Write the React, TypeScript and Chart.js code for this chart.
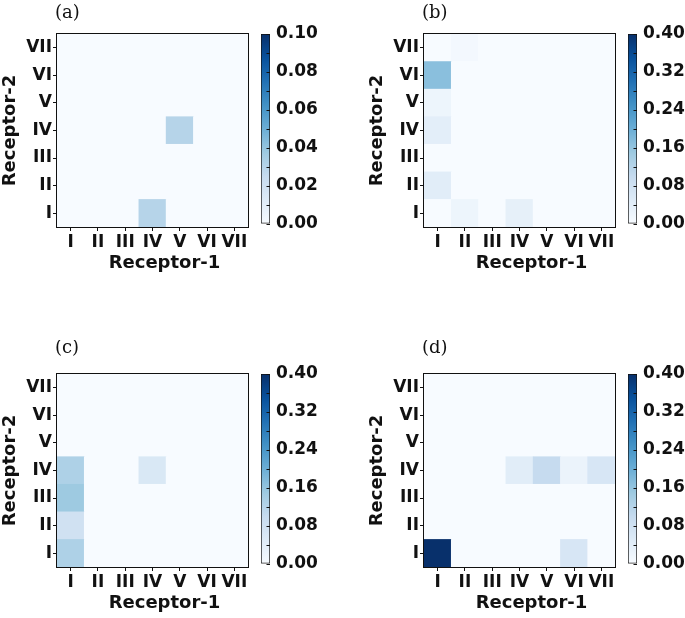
import React, { useEffect, useRef } from 'react';
import { Chart, registerables } from 'chart.js';

Chart.register(...registerables);

// ---------- data ----------
const receptorLabels = ['I', 'II', 'III', 'IV', 'V', 'VI', 'VII'];
const panelTitles = ['(a)', '(b)', '(c)', '(d)'];
const colorbarMax = [0.1, 0.4, 0.4, 0.4];
const xAxisTitle = 'Receptor-1';
const yAxisTitle = 'Receptor-2';

// rows: Receptor-2 = I..VII (bottom to top); columns: Receptor-1 = I..VII
const panelA = [
  [0, 0, 0, 0.03, 0, 0, 0],
  [0, 0, 0, 0, 0, 0, 0],
  [0, 0, 0, 0, 0, 0, 0],
  [0, 0, 0, 0, 0.03, 0, 0],
  [0, 0, 0, 0, 0, 0, 0],
  [0, 0, 0, 0, 0, 0, 0],
  [0, 0, 0, 0, 0, 0, 0],
];
const panelB = [
  [0, 0.02, 0, 0.035, 0, 0, 0],
  [0.045, 0, 0, 0, 0, 0, 0],
  [0, 0, 0, 0, 0, 0, 0],
  [0.04, 0, 0, 0, 0, 0, 0],
  [0.02, 0, 0, 0, 0, 0, 0],
  [0.17, 0, 0, 0, 0, 0, 0],
  [0, 0.008, 0, 0, 0, 0, 0],
];
const panelC = [
  [0.13, 0, 0, 0, 0, 0, 0],
  [0.08, 0, 0, 0, 0, 0, 0],
  [0.15, 0, 0, 0, 0, 0, 0],
  [0.13, 0, 0, 0.06, 0, 0, 0],
  [0, 0, 0, 0, 0, 0, 0],
  [0, 0, 0, 0, 0, 0, 0],
  [0, 0, 0, 0, 0, 0, 0],
];
const panelD = [
  [0.4, 0, 0, 0, 0, 0.065, 0],
  [0, 0, 0, 0, 0, 0, 0],
  [0, 0, 0, 0, 0, 0, 0],
  [0, 0, 0, 0.045, 0.1, 0.025, 0.065],
  [0, 0, 0, 0, 0, 0, 0],
  [0, 0, 0, 0, 0, 0, 0],
  [0, 0, 0, 0, 0, 0, 0],
];
const panelValues = [panelA, panelB, panelC, panelD];

// matplotlib "Blues"
const bluesStops: [number, number[]][] = [
  [0.0, [247, 251, 255]],
  [0.125, [222, 235, 247]],
  [0.25, [198, 219, 239]],
  [0.375, [158, 202, 225]],
  [0.5, [107, 174, 214]],
  [0.625, [66, 146, 198]],
  [0.75, [33, 113, 181]],
  [0.875, [8, 81, 156]],
  [1.0, [8, 48, 107]],
];

function blues(t: number): string {
  const x = Math.max(0, Math.min(1, t));
  for (let i = 1; i < bluesStops.length; i++) {
    const [t1, c1] = bluesStops[i];
    const [t0, c0] = bluesStops[i - 1];
    if (x <= t1) {
      const f = (x - t0) / (t1 - t0);
      const c = c0.map((v, k) => Math.round(v + (c1[k] - v) * f));
      return `rgb(${c[0]},${c[1]},${c[2]})`;
    }
  }
  return 'rgb(8,48,107)';
}

const INK = '#111111';
const FAMILY = '"DejaVu Sans", sans-serif';
const tickFont = { family: FAMILY, size: 17, weight: 'bold' as const, lineHeight: 1.2 };
const AXIS_TITLE_FONT = `bold 18px ${FAMILY}`;

const HEAT_W = 260;
const HEAT_H = 285;
const CB_W = 80;
const CB_H = 240;

function Panel({ values, vmax, label, left, top, labelGap }: { values: number[][]; vmax: number; label: string; left: number; top: number; labelGap: number }) {
  const heatRef = useRef<HTMLCanvasElement>(null);
  const cbRef = useRef<HTMLCanvasElement>(null);

  useEffect(() => {
    const framePlugin = {
      id: 'frame',
      beforeDatasetsDraw(chart: any) {
        const { ctx, chartArea: a } = chart;
        ctx.save();
        ctx.fillStyle = blues(0);
        ctx.fillRect(a.left, a.top, a.right - a.left, a.bottom - a.top);
        ctx.restore();
      },
      afterDatasetsDraw(chart: any) {
        const { ctx, chartArea: a } = chart;
        ctx.save();
        ctx.strokeStyle = INK;
        ctx.lineWidth = 1;
        ctx.strokeRect(Math.round(a.left) - 0.5, Math.round(a.top) - 0.5, Math.round(a.right - a.left) + 1, Math.round(a.bottom - a.top) + 1);
        // panel label
        ctx.font = '18px "DejaVu Serif", serif';
        ctx.fillStyle = INK;
        ctx.textAlign = 'left';
        ctx.textBaseline = 'alphabetic';
        ctx.fillText(label, a.left - 2, a.top - labelGap);
        // axis titles
        ctx.font = AXIS_TITLE_FONT;
        ctx.textAlign = 'center';
        ctx.textBaseline = 'middle';
        ctx.fillText(xAxisTitle, (a.left + a.right) / 2 + 12, a.bottom + 36);
        ctx.translate(10, (a.top + a.bottom) / 2);
        ctx.rotate(-Math.PI / 2);
        ctx.fillText(yAxisTitle, 0, 0);
        ctx.restore();
      },
    };

    const datasets = receptorLabels.map((name, r) => ({
      label: name,
      data: receptorLabels.map(() => [r - 0.5, r + 0.5]),
      backgroundColor: values[r].map((v) => blues(v / vmax)),
      borderWidth: 0,
      barPercentage: 1,
      categoryPercentage: 1,
      grouped: false,
    }));

    const heat = new Chart(heatRef.current!, {
      type: 'bar',
      data: { labels: receptorLabels, datasets: datasets as any },
      options: {
        responsive: false,
        animation: false,
        devicePixelRatio: 1,
        layout: { padding: { top: 34, right: 12, left: 0, bottom: 0 } },
        plugins: { legend: { display: false }, tooltip: { enabled: false } },
        scales: {
          x: {
            type: 'category',
            offset: true,
            grid: { drawOnChartArea: false, offset: false, tickLength: 4, color: INK, lineWidth: 1 },
            border: { display: false },
            ticks: { font: tickFont, color: INK, padding: 1, maxRotation: 0, autoSkip: false },
            afterFit: (s: any) => {
              s.height = HEAT_H - 227;
            },
          },
          y: {
            type: 'linear',
            min: -0.5,
            max: 6.5,
            afterBuildTicks: (s: any) => {
              s.ticks = receptorLabels.map((_, i) => ({ value: i }));
            },
            grid: { drawOnChartArea: false, tickLength: 4, color: INK, lineWidth: 1 },
            border: { display: false },
            ticks: {
              font: tickFont,
              color: INK,
              padding: 1,
              autoSkip: false,
              callback: (v: any) => receptorLabels[Math.round(Number(v))] ?? '',
            },
            afterFit: (s: any) => {
              s.width = 57;
            },
          },
        },
      } as any,
      plugins: [framePlugin],
    });

    const cbTicksPlugin = {
      id: 'cbTicks',
      afterDatasetsDraw(chart: any) {
        const { ctx, chartArea: a } = chart;
        const s = chart.scales.y;
        ctx.save();
        ctx.strokeStyle = INK;
        ctx.lineWidth = 1;
        s.ticks.forEach((t: any) => {
          const y = Math.round(s.getPixelForValue(t.value)) + 0.5;
          ctx.beginPath();
          ctx.moveTo(a.right - 3.5, y);
          ctx.lineTo(a.right, y);
          ctx.stroke();
        });
        ctx.restore();
      },
    };

    const cb = new Chart(cbRef.current!, {
      type: 'bar',
      data: {
        labels: [''],
        datasets: [
          {
            data: [[0, vmax]] as any,
            backgroundColor: (ctx: any) => {
              const a = ctx.chart.chartArea;
              if (!a) return blues(0);
              const g = ctx.chart.ctx.createLinearGradient(0, a.bottom, 0, a.top);
              bluesStops.forEach(([t, c]) => g.addColorStop(t, `rgb(${c[0]},${c[1]},${c[2]})`));
              return g;
            },
            borderColor: INK,
            borderWidth: 1,
            borderSkipped: false,
            barPercentage: 1,
            categoryPercentage: 1,
          },
        ],
      },
      options: {
        responsive: false,
        animation: false,
        devicePixelRatio: 1,
        layout: { padding: { top: 34, left: 11, right: 0, bottom: CB_H - 227 } },
        plugins: { legend: { display: false }, tooltip: { enabled: false } },
        scales: {
          x: { display: false },
          y: {
            position: 'right',
            min: 0,
            max: vmax,
            grid: { drawOnChartArea: false, drawTicks: false },
            border: { display: false },
            ticks: {
              stepSize: vmax / 10,
              autoSkip: false,
              padding: 6,
              font: tickFont,
              color: INK,
              callback: (v: any, i: number) => (i % 2 === 0 ? Number(v).toFixed(2) : ''),
            },
            afterFit: (s: any) => {
              s.width = CB_W - 20;
            },
          },
        },
      } as any,
      plugins: [cbTicksPlugin],
    });

    return () => {
      heat.destroy();
      cb.destroy();
    };
  }, [values, vmax, label, labelGap]);

  return (
    <>
      <canvas ref={heatRef} width={HEAT_W} height={HEAT_H} style={{ position: 'absolute', left, top, width: HEAT_W, height: HEAT_H }} />
      <canvas ref={cbRef} width={CB_W} height={CB_H} style={{ position: 'absolute', left: left + 250, top, width: CB_W, height: CB_H }} />
    </>
  );
}

export default function App() {
  const origins = [
    [0, 0],
    [367, 0],
    [0, 340],
    [367, 340],
  ];
  const labelGaps = [16, 16, 21, 21];
  return (
    <div style={{ position: 'absolute', left: 0, top: 0, width: 685, height: 618, overflow: 'hidden', background: '#fff' }}>
      {panelValues.map((vals, i) => (
        <Panel
          key={i}
          values={vals}
          vmax={colorbarMax[i]}
          label={panelTitles[i]}
          left={origins[i][0]}
          top={origins[i][1]}
          labelGap={labelGaps[i]}
        />
      ))}
    </div>
  );
}
